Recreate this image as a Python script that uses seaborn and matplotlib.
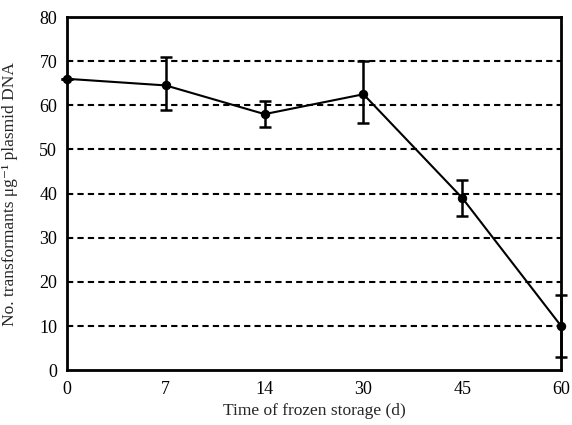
import matplotlib
matplotlib.use("Agg")
import matplotlib.pyplot as plt
import seaborn as sns
import pandas as pd
import numpy as np

days = ["0", "7", "14", "30", "45", "60"]
transformants = [66, 64.5, 58, 62.5, 39, 10]
err_low = [66, 59, 55, 56, 35, 3]
err_high = [66, 71, 61, 70, 43, 17]

sns.set_style("white")
plt.rcParams['font.family'] = ['Liberation Serif', 'DejaVu Serif']

df = pd.DataFrame({"pos": np.arange(len(days)), "val": transformants})

fig = plt.figure(figsize=(5.72, 4.25), dpi=100)
ax = fig.add_axes([0.117, 0.129, 0.864, 0.831])

# dashed horizontal grid
for yv in range(10, 80, 10):
    ax.axhline(yv, color="black", linestyle=(0, (3, 2)), linewidth=1.5, zorder=1)

lo = np.array(transformants) - np.array(err_low)
hi = np.array(err_high) - np.array(transformants)
ax.errorbar(df["pos"], df["val"], yerr=[lo, hi], fmt="none", ecolor="black",
            elinewidth=1.8, capsize=4, capthick=1.8, zorder=3, clip_on=False)
sns.lineplot(data=df, x="pos", y="val", ax=ax, color="black", linewidth=1.5,
             marker="o", markersize=6, markeredgecolor="black", zorder=4, clip_on=False)

ax.set_xlim(0, len(days) - 1)
ax.set_ylim(0, 80)
ax.set_xticks(df["pos"])
ax.set_xticklabels(days)
ax.set_yticks(range(0, 81, 10))
ax.tick_params(direction="in", length=5, width=1.5, labelsize=13, colors="black")
ax.tick_params(axis="y", pad=7)
ax.tick_params(axis="x", pad=8)
for s in ax.spines.values():
    s.set_visible(True)
    s.set_color("black")
    s.set_linewidth(2)

ax.set_xlabel("Time of frozen storage (d)", fontsize=12.5)
ax.set_ylabel("No. transformants μg⁻¹ plasmid DNA", fontsize=12.5)
ax.xaxis.set_label_coords(0.5, -0.092)
ax.yaxis.set_label_coords(-0.1, 0.5)

fig.savefig("out.png", dpi=100)
